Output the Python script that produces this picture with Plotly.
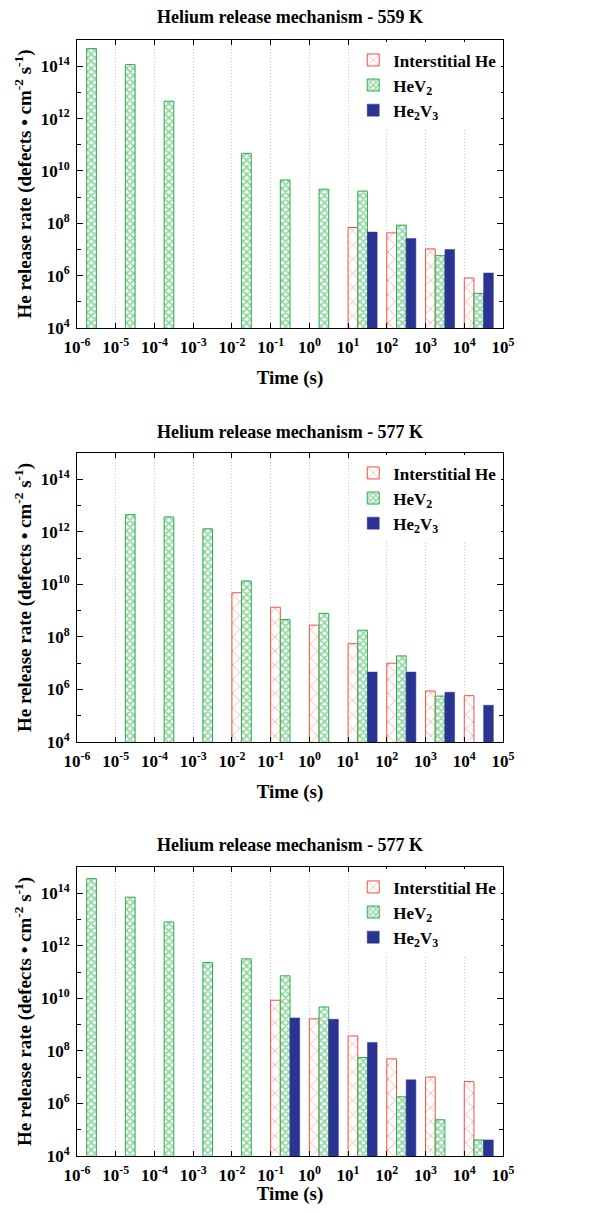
import plotly.graph_objects as go

# ---------------- data ----------------
decade_labels = ["10<sup>-6</sup>", "10<sup>-5</sup>", "10<sup>-4</sup>", "10<sup>-3</sup>",
                 "10<sup>-2</sup>", "10<sup>-1</sup>", "10<sup>0</sup>", "10<sup>1</sup>",
                 "10<sup>2</sup>", "10<sup>3</sup>", "10<sup>4</sup>", "10<sup>5</sup>"]
groups = list(range(11))  # one group per decade 1e-6 ... 1e4

series_names = ["Interstitial He", "HeV<sub>2</sub>", "He<sub>2</sub>V<sub>3</sub>"]

panel_titles = ["Helium release mechanism - 559 K",
                "Helium release mechanism - 577 K",
                "Helium release mechanism - 577 K"]

# panel 1 (559 K)
p1_interstitial = [None, None, None, None, None, None, None, 6.9e7, 4.3e7, 1.05e7, 8.1e5]
p1_hev2 = [4.7e14, 1.15e14, 4.6e12, None, 4.7e10, 4.5e9, 2.0e9, 1.7e9, 8.5e7, 5.8e6, 2.1e5]
p1_he2v3 = [None, None, None, None, None, None, None, 4.6e7, 2.6e7, 1.0e7, 1.26e6]

# panel 2 (577 K)
p2_interstitial = [None, None, None, None, 4.8e9, 1.35e9, 2.8e8, 5.5e7, 1.0e7, 8.7e5, 5.8e5]
p2_hev2 = [None, 4.5e12, 3.7e12, 1.3e12, 1.35e10, 4.6e8, 7.9e8, 1.8e8, 1.9e7, 5.6e5, None]
p2_he2v3 = [None, None, None, None, None, None, None, 4.6e6, 4.6e6, 7.8e5, 2.5e5]

# panel 3 (577 K)
p3_interstitial = [None, None, None, None, None, 8.5e9, 1.66e9, 3.7e8, 5.0e7, 1.02e7, 6.8e6]
p3_hev2 = [3.6e14, 7.1e13, 8.1e12, 2.3e11, 3.2e11, 7.2e10, 4.7e9, 5.6e7, 1.8e6, 2.4e5, 4.1e4]
p3_he2v3 = [None, None, None, None, None, 1.8e9, 1.6e9, 2.1e8, 7.9e6, None, 4.1e4]

y_major = [1e4, 1e6, 1e8, 1e10, 1e12, 1e14]
y_major_text = ["10<sup>4</sup>", "10<sup>6</sup>", "10<sup>8</sup>", "10<sup>10</sup>",
                "10<sup>12</sup>", "10<sup>14</sup>"]
y_minor = [1e5, 1e7, 1e9, 1e11, 1e13]

# ---------------- style ----------------
RED = "#f0503f"
GREEN = "#2aae4a"
BLUE = "#2b3492"
FONT = "Liberation Serif, Times New Roman, serif"
PAGE_MARGIN = 8  # default body margin of the html page
W, H = 605 - 2 * PAGE_MARGIN, 1213 - 2 * PAGE_MARGIN

panels = [(p1_interstitial, p1_hev2, p1_he2v3),
          (p2_interstitial, p2_hev2, p2_he2v3),
          (p3_interstitial, p3_hev2, p3_he2v3)]

# plot-area pixel boxes in window coordinates (top, bottom)
boxes = [(40, 328), (453, 742), (867, 1156)]
x_left, x_right = 77, 503
title_y = [17, 432, 845]


def px_x(p):
    return (p - PAGE_MARGIN) / W


def px_y(p):
    return 1 - (p - PAGE_MARGIN) / H


def bfont(size):
    return dict(family=FONT, size=size, color="black", weight="bold")


styles = [
    dict(color="white", line=dict(color=RED, width=1),
         pattern=dict(shape="x", fgcolor=RED, bgcolor="white", size=10, solidity=0.15, fillmode="overlay")),
    dict(color="white", line=dict(color=GREEN, width=1),
         pattern=dict(shape="x", fgcolor=GREEN, bgcolor="white", size=5, solidity=0.6, fillmode="overlay")),
    dict(color=BLUE, line=dict(color=BLUE, width=0.5)),
]
offsets = [0.0, 0.25, 0.5]

fig = go.Figure()
layout = dict(template="none", width=W, height=H, margin=dict(l=0, r=0, t=0, b=0, autoexpand=False),
              paper_bgcolor="white", plot_bgcolor="white",
              barmode="overlay", font=bfont(16),
              annotations=[])

for k, (vals, (top, bot)) in enumerate(zip(panels, boxes)):
    sfx = "" if k == 0 else str(k + 1)
    lg = "legend" if k == 0 else f"legend{k + 1}"
    for s in range(3):
        fig.add_trace(go.Bar(
            x=groups, y=vals[s], width=0.25, offset=offsets[s],
            name=series_names[s], marker=styles[s],
            xaxis="x" + sfx, yaxis="y" + sfx, legend=lg, showlegend=True,
        ))
    layout["xaxis" + sfx] = dict(
        domain=[px_x(x_left), px_x(x_right)], anchor="y" + sfx, range=[0, 11], automargin=False,
        tickmode="array", tickvals=list(range(12)), ticktext=decade_labels,
        ticks="inside", ticklen=5, tickcolor="black", mirror="allticks", showline=True,
        linecolor="black", linewidth=1, ticklabelstandoff=4,
        showgrid=True, gridcolor="#c4c4c4", griddash="1px,2px", gridwidth=1, zeroline=False,
        tickfont=bfont(17),
        title=dict(text="Time (s)", font=bfont(19), standoff=14),
    )
    layout["yaxis" + sfx] = dict(
        domain=[px_y(bot), px_y(top)], anchor="x" + sfx, type="log", range=[4, 15], automargin=False,
        tickmode="array", tickvals=y_major, ticktext=y_major_text,
        ticks="inside", ticklen=6, tickcolor="black", mirror="allticks", showline=True,
        linecolor="black", linewidth=1, ticklabelstandoff=3,
        minor=dict(tickmode="array", tickvals=y_minor, ticks="inside", ticklen=4,
                   tickcolor="black", showgrid=False),
        showgrid=False, zeroline=False,
        tickfont=bfont(17),
        title=dict(text="He release rate (defects • cm<sup>-2</sup> s<sup>-1</sup>)",
                   font=bfont(19), standoff=4),
    )
    layout[lg] = dict(x=px_x(x_right) - 0.003, xanchor="right", y=px_y(top) - 0.002, yanchor="top",
                      bgcolor="white", borderwidth=0, font=bfont(17),
                      tracegroupgap=0, itemwidth=30)
    layout["annotations"].append(dict(
        text=panel_titles[k], x=px_x((x_left + x_right) / 2), y=px_y(title_y[k]),
        xref="paper", yref="paper", showarrow=False, xanchor="center", yanchor="middle",
        font=bfont(18)))

fig.update_layout(**layout)
fig.write_html("out.html")
